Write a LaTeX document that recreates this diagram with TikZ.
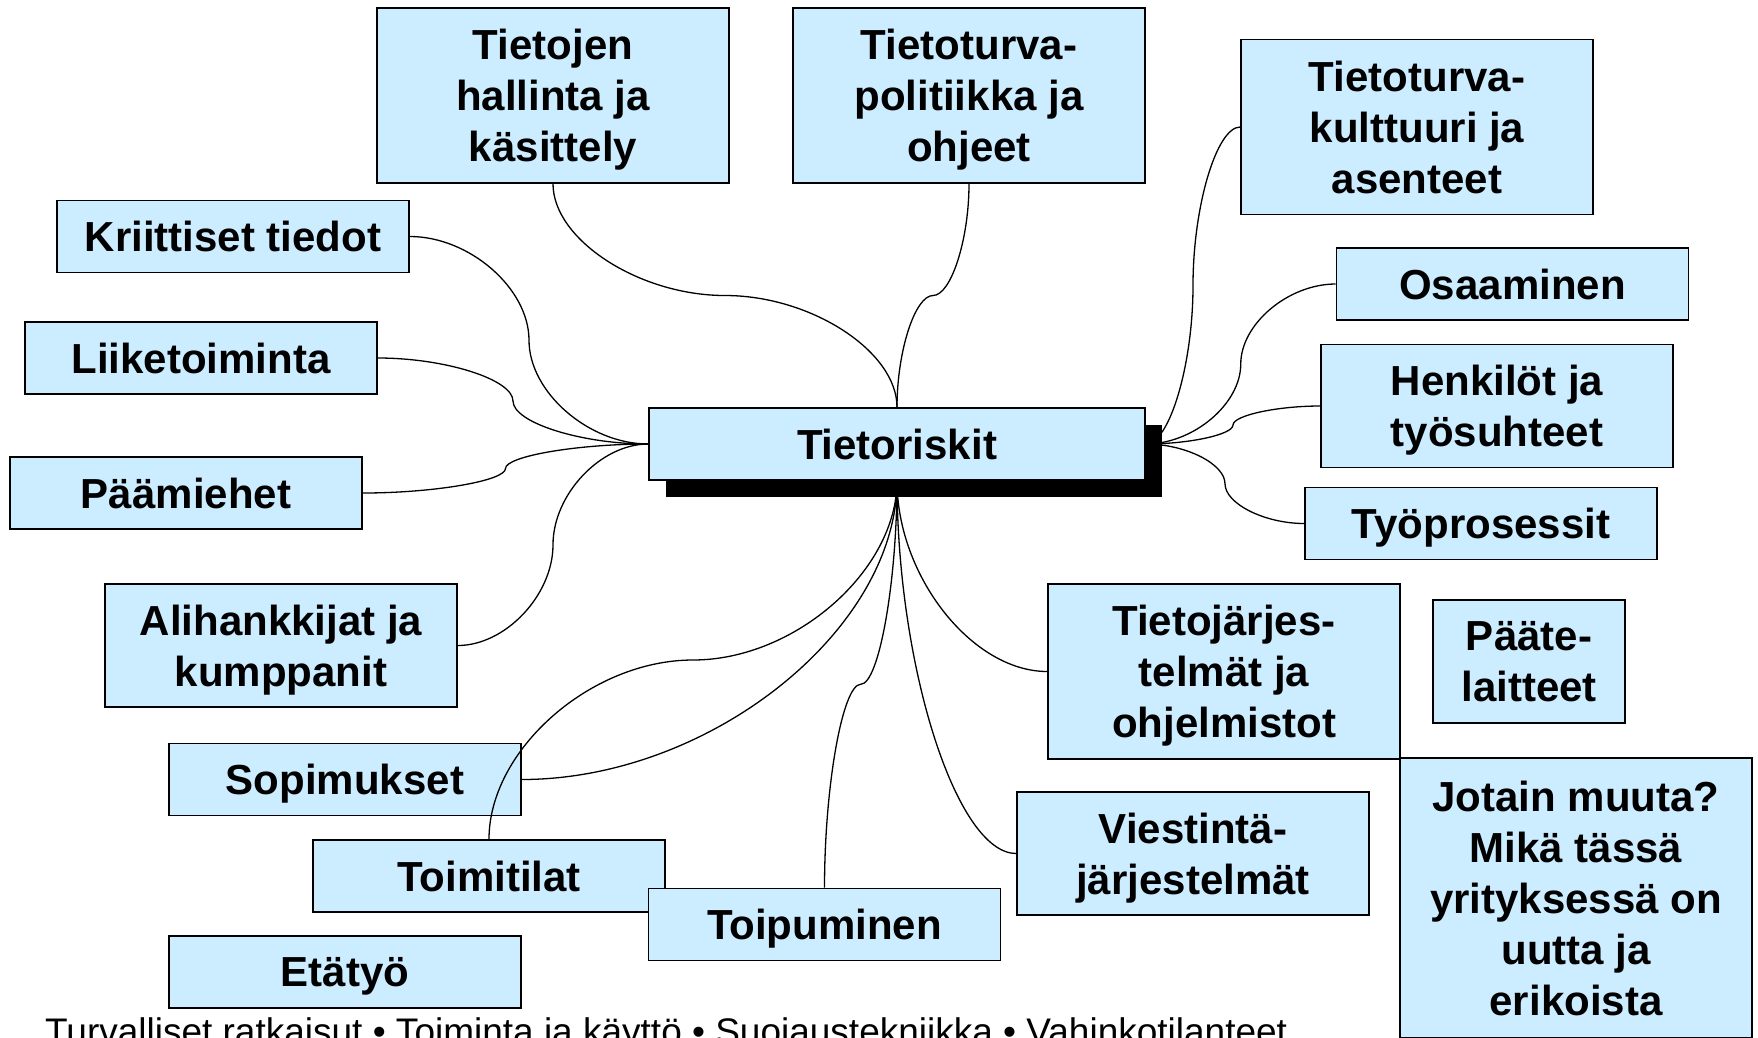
\documentclass[tikz,border=0pt]{standalone}
\usepackage{fontspec}
\setmainfont{Liberation Sans}
\usetikzlibrary{calc,shadows}
\pgfdeclarelayer{front}
\pgfsetlayers{main,front}
\definecolor{boxblue}{RGB}{204,236,255}
\tikzset{
  topic/.style={draw=black, line width=1.6pt, fill=boxblue, align=center, inner sep=0pt,
    text depth=0pt, minimum width=352pt, font=\bfseries\fontsize{42}{51}\selectfont},
  hA/.style={minimum height=72pt},
  hB/.style={minimum height=123pt},
  hC/.style={minimum height=175pt},
  conn/.style={draw=black, line width=1.3pt},
  hh/.style={to path={let \p1=(\tikztostart), \p2=(\tikztotarget) in
    .. controls ({0.75*\x1+0.25*\x2},\y1) and ({0.5*\x1+0.5*\x2},{0.75*\y1+0.25*\y2})
    .. ({0.5*\x1+0.5*\x2},{0.5*\y1+0.5*\y2})
    .. controls ({0.5*\x1+0.5*\x2},{0.25*\y1+0.75*\y2}) and ({0.25*\x1+0.75*\x2},\y2)
    .. (\tikztotarget)}},
  vv/.style={to path={let \p1=(\tikztostart), \p2=(\tikztotarget) in
    .. controls (\x1,{0.75*\y1+0.25*\y2}) and ({0.75*\x1+0.25*\x2},{0.5*\y1+0.5*\y2})
    .. ({0.5*\x1+0.5*\x2},{0.5*\y1+0.5*\y2})
    .. controls ({0.25*\x1+0.75*\x2},{0.5*\y1+0.5*\y2}) and (\x2,{0.25*\y1+0.75*\y2})
    .. (\tikztotarget)}},
  vh/.style={to path={let \p1=(\tikztostart), \p2=(\tikztotarget) in
    .. controls (\x1,{0.5*\y1+0.5*\y2}) and ({0.5*\x1+0.5*\x2},\y2)
    .. (\tikztotarget)}},
}
\begin{document}
\begin{tikzpicture}[x=1pt,y=-1pt]
\useasboundingbox (0,0) rectangle (1758,1037);
\fill[white] (0,0) rectangle (1758,1037);
\clip (0,0) rectangle (1758,1037);

% centre box (drawn on the front layer, above connectors)
\begin{pgfonlayer}{front}
\node[topic,hA,minimum width=496pt,
  drop shadow={shadow xshift=17pt,shadow yshift=-17pt,fill=black,opacity=1}]
  (ctr) at (897,444) {Tietoriskit};
\end{pgfonlayer}

% topic boxes
\node[topic,hC] (hal) at (553,95.5) {Tietojen\\hallinta ja\\käsittely};
\node[topic,hC] (pol) at (969,95.5) {Tietoturva-\\politiikka ja\\ohjeet};
\node[topic,hC] (kul) at (1417,127) {Tietoturva-\\kulttuuri ja\\asenteet};
\node[topic,hA] (kri) at (233,236.5) {Kriittiset tiedot};
\node[topic,hA] (lii) at (201,358) {Liiketoiminta};
\node[topic,hA] (paa) at (186,493) {Päämiehet};
\node[topic,hB] (ali) at (281,645.5) {Alihankkijat ja\\kumppanit};
\node[topic,hA] (sop) at (345,779.5) {Sopimukset};
\node[topic,hA] (tmt) at (489,876) {Toimitilat};
\node[topic,hA] (toi) at (824.5,924.5) {Toipuminen};
\node[topic,hA] (eta) at (345,972) {Etätyö};
\node[topic,hB] (vie) at (1193,853.5) {Viestintä-\\järjestelmät};
\node[topic,hC] (tj) at (1224,671.5) {Tietojärjes-\\telmät ja\\ohjelmistot};
\node[topic,hB,minimum width=192pt] (pte) at (1529,661.5) {Pääte-\\laitteet};
\node[topic,minimum height=280pt] (jot) at (1576,898) {Jotain muuta?\\Mikä tässä\\yrityksessä on\\uutta ja\\erikoista};
\node[topic,hA] (osa) at (1512.5,284) {Osaaminen};
\node[topic,hB] (hen) at (1497,406) {Henkilöt ja\\työsuhteet};
\node[topic,hA] (typ) at (1481,523.5) {Työprosessit};

% connectors
\draw[conn] (kri.east) to[hh] (ctr.west);
\draw[conn] (lii.east) to[hh] (ctr.west);
\draw[conn] (paa.east) to[hh] (ctr.west);
\draw[conn] (ali.east) to[hh] (ctr.west);
\draw[conn] (hal.south) to[vv] (ctr.north);
\draw[conn] (pol.south) to[vv] (ctr.north);
\draw[conn] (kul.west) to[hh] (ctr.east);
\draw[conn] (osa.west) to[hh] (ctr.east);
\draw[conn] (hen.west) to[hh] (ctr.east);
\draw[conn] (typ.west) to[hh] (ctr.east);
\draw[conn] (ctr.south) to[vh] (tj.west);
\draw[conn] (ctr.south) to[vh] (vie.west);
\draw[conn] (ctr.south) to[vh] (sop.east);
\draw[conn] (ctr.south) to[vv] (toi.north);
\draw[conn] (ctr.south) to[vv] (tmt.north);

% footer line (cut off at the lower edge, as in the reference)
\node[anchor=base west, inner sep=0pt, font=\fontsize{37}{44}\selectfont] (foot) at (45,1044)
  {Turvalliset ratkaisut • Toiminta ja käyttö • Suojaustekniikka • Vahinkotilanteet};
\end{tikzpicture}
\end{document}
